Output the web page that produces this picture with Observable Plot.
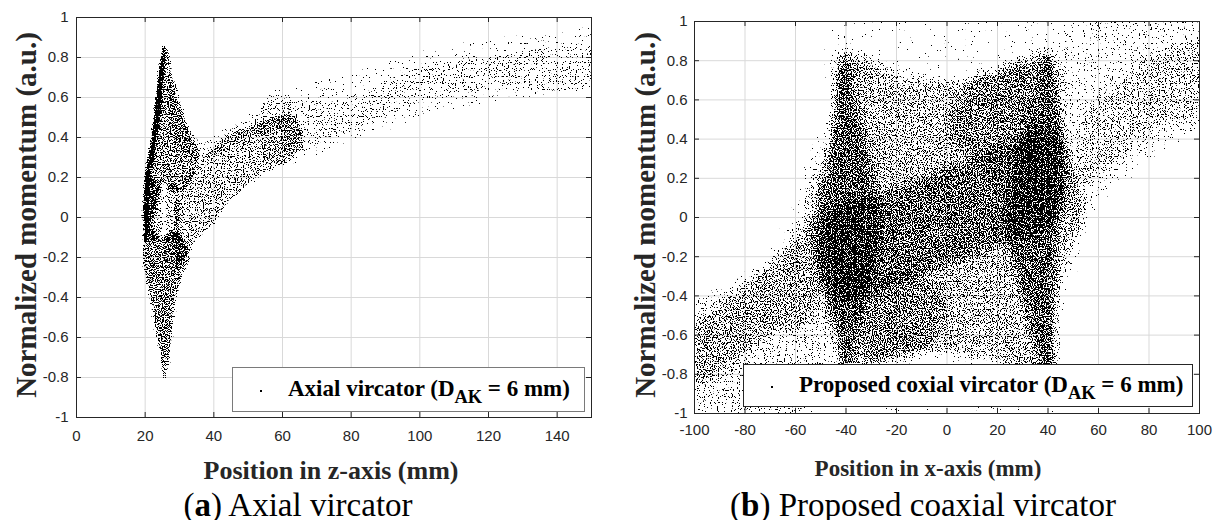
<!DOCTYPE html>
<html><head><meta charset="utf-8">
<script src="https://cdn.jsdelivr.net/npm/d3@7"></script>
<script src="https://cdn.jsdelivr.net/npm/@observablehq/plot@0.6"></script>
<style>
body{margin:0;background:#fff;}
#fig{position:relative;width:1218px;height:520px;overflow:hidden;background:#fff;}
.panel{position:absolute;top:0;}
.ylab{position:absolute;font:bold 29px "Liberation Serif",serif;color:#262626;white-space:nowrap;line-height:1;transform:translate(-50%,-50%) rotate(-90deg);}
.xlab{position:absolute;font-family:"Liberation Serif",serif;font-weight:bold;color:#262626;white-space:nowrap;text-align:center;line-height:22px;}
.cap{position:absolute;font:33px "Liberation Serif",serif;color:#000;white-space:nowrap;text-align:center;line-height:30px;}
.leg{position:absolute;background:#fff;box-sizing:border-box;font:bold 23px "Liberation Serif",serif;color:#000;white-space:nowrap;}
.leg .dot{position:absolute;width:2px;height:2px;background:#000;top:50%;}
.leg .txt{position:absolute;top:50%;transform:translateY(-58%);line-height:1;}
.leg sub{font-size:0.8em;vertical-align:-0.38em;line-height:0;}
</style></head>
<body>
<div id="fig"></div>
<script>
// ---------- axes ----------
const yTicks = [-1, -0.8, -0.6, -0.4, -0.2, 0, 0.2, 0.4, 0.6, 0.8, 1];
const yDomain = [-1, 1];
const aXTicks = [0, 20, 40, 60, 80, 100, 120, 140];
const aXDomain = [0, 150];
const bXTicks = [-100, -80, -60, -40, -20, 0, 20, 40, 60, 80, 100];
const bXDomain = [-100, 100];

// ---------- panel (a): axial vircator, particle cloud outlines [x (mm), momentum] ----------
const aStreak = [[19.9,-0.12],[19.6,0.0],[20.0,0.2],[22.0,0.4],[23.3,0.6],[24.8,0.8],[25.4,0.86],[26.0,0.85],[25.9,0.8],[25.0,0.6],[23.7,0.4],[21.8,0.2],[21.0,0.0],[20.6,-0.12]];
const aUpperLobe = [[20.5,0.0],[22,0.4],[23.3,0.6],[25,0.82],[26.5,0.84],[28,0.72],[30,0.6],[32,0.48],[34,0.4],[36,0.32],[34,0.2],[30,0.12],[27,0.14],[25.6,0.17],[24,0.1],[22,-0.02]];
const aEyeLeft = [[21,-0.12],[24.6,-0.1],[25.1,0.05],[24.8,0.16],[22.5,0.2],[21.2,0.1]];
const aEyeRight = [[26.2,-0.12],[29,-0.12],[30,0.0],[29,0.16],[26.6,0.16],[26.1,0.02]];
const aLowerLobe = [[19.6,-0.1],[19.6,-0.25],[21.6,-0.4],[23.5,-0.6],[25.3,-0.78],[25.8,-0.82],[26.2,-0.8],[27.9,-0.6],[29.3,-0.4],[31,-0.3],[33,-0.2],[31,-0.1],[28,-0.07],[25,-0.1],[23,-0.08],[21,0.0]];
const aLowerBranch = [[29,-0.25],[32,-0.2],[35,-0.12],[40,-0.04],[45,0.08],[50,0.15],[55,0.22],[62,0.28],[66,0.36],[64,0.5],[58,0.5],[50,0.45],[45,0.42],[40,0.35],[35,0.25],[31,0.15],[29,0.08]];
const aUpperBranch = [[27,0.7],[30,0.55],[34,0.42],[38,0.4],[45,0.45],[50,0.5],[56,0.6],[62,0.62],[62,0.5],[55,0.42],[48,0.38],[40,0.3],[35,0.28],[30,0.35],[27,0.5]];
const aTail = [[55,0.25],[65,0.27],[80,0.385],[100,0.485],[120,0.57],[143,0.635],[150,0.65],[150,0.95],[143,0.92],[120,0.885],[100,0.82],[80,0.72],[65,0.66],[55,0.6]];
const aTailCore = [[60,0.32],[65,0.32],[80,0.42],[100,0.57],[120,0.635],[150,0.67],[150,0.84],[120,0.8],[100,0.75],[80,0.6],[65,0.58],[60,0.55]];
const aOutlines = [aStreak, aUpperLobe, aEyeLeft, aEyeRight, aLowerLobe, aLowerBranch, aUpperBranch, aTail, aTailCore];
const aDensity = [0.95, 0.5, 0.42, 0.38, 0.55, 0.4, 0.2, 0.12, 0.15];

// ---------- panel (b): proposed coaxial vircator ----------
const bLowerWing = [[-100,-1],[-55,-1],[-48,-0.9],[-46,-0.6],[-48,0.1],[-50,0.43],[-55,0.2],[-59,0.0],[-65,-0.12],[-70,-0.2],[-80,-0.3],[-93,-0.4],[-100,-0.42]];
const bLowerWingCore = [[-100,-0.9],[-85,-0.75],[-70,-0.6],[-52,-0.5],[-52,0.0],[-62,-0.15],[-75,-0.3],[-90,-0.45],[-100,-0.55]];
const bLeftColumn = [[-42,0.86],[-39,0.8],[-36,0.6],[-32,0.4],[-28,0.2],[-26,0],[-28,-0.2],[-32,-0.4],[-35,-0.6],[-38,-0.8],[-40,-0.84],[-42,-0.8],[-44,-0.6],[-48,-0.4],[-52,-0.2],[-53,0],[-50,0.2],[-47,0.4],[-45,0.6],[-43.5,0.8]];
const bRightColumn = [[40,0.88],[42,0.8],[44,0.6],[47,0.4],[52,0.2],[54,0],[50,-0.2],[45,-0.4],[42.5,-0.6],[42,-0.78],[39,-0.82],[36,-0.7],[32,-0.5],[28,-0.3],[24,-0.1],[24,0.1],[28,0.3],[32,0.5],[36,0.7],[38.5,0.84]];
const bCenter = [[-45,-0.45],[-30,-0.4],[-10,-0.3],[10,-0.2],[30,-0.1],[45,0.0],[45,0.45],[30,0.4],[10,0.3],[-10,0.2],[-30,0.1],[-45,0.05]];
const bBetween = [[-42,-0.8],[-20,-0.72],[0,-0.7],[20,-0.74],[42,-0.8],[43,-0.3],[46,0.2],[41,0.84],[20,0.74],[0,0.7],[-20,0.74],[-41,0.84],[-46,0.4],[-50,-0.2]];
const bLowerInner = [[-35,-0.3],[-10,-0.3],[0,-0.45],[-10,-0.7],[-30,-0.75]];
const bUpperInner = [[35,0.3],[10,0.3],[0,0.45],[10,0.7],[30,0.8]];
const bUpperWing = [[45,1],[100,1],[100,0.45],[90,0.38],[80,0.32],[70,0.2],[60,0.08],[52,-0.1],[47,0.3],[45,0.6]];
const bUpperWingCore = [[52,0.15],[65,0.25],[80,0.42],[100,0.55],[100,0.9],[85,0.85],[70,0.7],[55,0.55]];
const bTopSparse = [[-45,0.7],[0,0.72],[45,0.7],[45,1],[0,1],[-45,1]];
const bBottomSparse = [[-45,-1],[0,-1],[45,-1],[45,-0.75],[0,-0.75],[-45,-0.75]];
const bOutlines = [bLowerWing, bLowerWingCore, bLeftColumn, bRightColumn, bCenter, bBetween, bLowerInner, bUpperInner, bUpperWing, bUpperWingCore, bTopSparse, bBottomSparse];
const bDensity = [0.27, 0.28, 0.38, 0.38, 0.32, 0.42, 0.22, 0.22, 0.2, 0.22, 0.07, 0.07];

const fmt = d => String(d);

// each outline is drawn as a filled area: the outline is one edge, the other edge collapses to its first vertex
function cloudMarks(outlines, density) {
  return outlines.map((outline, i) => {
    const pts = outline.concat([outline[0]]);
    return Plot.area(pts, {
      x1: d => d[0], y1: d => d[1],
      x2: () => outline[0][0], y2: () => outline[0][1],
      curve: "catmull-rom",
      fill: "black", fillOpacity: density[i], stroke: "none"
    });
  });
}

function panel({xDomain, xTicks, outlines, density, mL, mR, mT, mB, padX, padY, fw, fh}) {
  const ink = "#262626";
  return Plot.plot({
    width: 609, height: 520,
    marginLeft: mL, marginRight: mR, marginTop: mT, marginBottom: mB,
    x: {domain: xDomain}, y: {domain: yDomain},
    style: {fontFamily: '"Liberation Sans", Arial, sans-serif', fontSize: "15px", color: ink, background: "transparent"},
    marks: [
      Plot.gridX({ticks: xTicks, stroke: "#d9d9d9", strokeOpacity: 1, strokeWidth: 1}),
      Plot.gridY({ticks: yTicks, stroke: "#d9d9d9", strokeOpacity: 1, strokeWidth: 1}),
      ...cloudMarks(outlines, density),
      // inward tick marks on all four sides (MATLAB box)
      Plot.tickX(xTicks, {x: d => d, insetTop: fh - 5, stroke: ink}),
      Plot.tickX(xTicks, {x: d => d, insetBottom: fh - 5, stroke: ink}),
      Plot.tickY(yTicks, {y: d => d, insetRight: fw - 5, stroke: ink}),
      Plot.tickY(yTicks, {y: d => d, insetLeft: fw - 5, stroke: ink}),
      Plot.axisX({ticks: xTicks, anchor: "bottom", tickSize: 0, tickPadding: padX, tickFormat: fmt, label: null}),
      Plot.axisY({ticks: yTicks, anchor: "left", tickSize: 0, tickPadding: padY, tickFormat: fmt, label: null}),
      Plot.frame({stroke: ink, strokeWidth: 1})
    ]
  });
}

// render the filled cloud areas as a field of single-pixel particles (soft edges, noise-thresholded alpha)
const NS = "http://www.w3.org/2000/svg";
function speckle(svg, id, seed, blur, frame) {
  const defs = document.createElementNS(NS, "defs");
  defs.innerHTML = `<filter id="${id}" filterUnits="userSpaceOnUse" x="0" y="0" width="609" height="520" color-interpolation-filters="sRGB">
      <feGaussianBlur in="SourceAlpha" stdDeviation="${blur}" result="soft"/>
      <feTurbulence type="fractalNoise" baseFrequency="0.85" numOctaves="1" seed="${seed}" result="noise"/>
      <feColorMatrix in="noise" type="matrix" values="0 0 0 0 0  0 0 0 0 0  0 0 0 0 0  2.2 0 0 0 -0.55" result="na"/>
      <feComposite in="soft" in2="na" operator="arithmetic" k1="0" k2="1" k3="-1" k4="0" result="diff"/>
      <feComponentTransfer in="diff"><feFuncA type="linear" slope="30" intercept="0"/></feComponentTransfer>
    </filter>
    <clipPath id="${id}-clip"><rect x="${frame[0]}" y="${frame[1]}" width="${frame[2]}" height="${frame[3]}"/></clipPath>`;
  svg.insertBefore(defs, svg.firstChild);
  const groups = Array.from(svg.querySelectorAll('g[aria-label="area"]'));
  if (!groups.length) return;
  const outer = document.createElementNS(NS, "g");
  outer.setAttribute("clip-path", `url(#${id}-clip)`);
  const wrap = document.createElementNS(NS, "g");
  wrap.setAttribute("filter", `url(#${id})`);
  outer.appendChild(wrap);
  groups[0].parentNode.insertBefore(outer, groups[0]);
  groups.forEach(g => wrap.appendChild(g));
}

const fig = document.getElementById("fig");

const left = panel({xDomain: aXDomain, xTicks: aXTicks, outlines: aOutlines, density: aDensity, mL: 76, mR: 18, mT: 17, mB: 103, padX: 13, padY: 8, fw: 515, fh: 400});
left.classList.add("panel"); left.style.left = "0px";
speckle(left, "speckleA", 11, 1.2, [76, 17, 515, 400]);
fig.appendChild(left);

const right = panel({xDomain: bXDomain, xTicks: bXTicks, outlines: bOutlines, density: bDensity, mL: 85, mR: 19, mT: 21, mB: 107, padX: 11, padY: 7, fw: 505, fh: 392});
right.classList.add("panel"); right.style.left = "609px";
speckle(right, "speckleB", 29, 4, [85, 21, 505, 392]);
fig.appendChild(right);

function addDiv(cls, html, style) {
  const d = document.createElement("div");
  d.className = cls; d.innerHTML = html;
  Object.assign(d.style, style);
  fig.appendChild(d);
  return d;
}
addDiv("ylab", "Normalized momentum (a.u.)", {left: "26px", top: "215px"});
addDiv("ylab", "Normalized momentum (a.u.)", {left: "645px", top: "215px"});
addDiv("xlab", "Position in z-axis (mm)", {left: "131px", width: "400px", top: "460px", fontSize: "26px"});
addDiv("xlab", "Position in x-axis (mm)", {left: "728px", width: "400px", top: "458px", fontSize: "23px"});
addDiv("leg", '<span class="dot" style="left:27px"></span><span class="txt" style="left:55px">Axial vircator (D<sub>AK</sub> = 6 mm)</span>',
  {left: "232px", top: "367px", width: "353px", height: "45px", border: "1px solid #7a7a7a"});
addDiv("leg", '<span class="dot" style="left:27px"></span><span class="txt" style="left:55px">Proposed coxial vircator (D<sub>AK</sub> = 6 mm)</span>',
  {left: "743px", top: "364px", width: "450px", height: "43px", border: "1px solid #262626"});
addDiv("cap", "(<b>a</b>) Axial vircator", {left: "98px", width: "400px", top: "490px"});
addDiv("cap", "(<b>b</b>) Proposed coaxial vircator", {left: "723px", width: "400px", top: "490px"});
</script>
</body></html>
